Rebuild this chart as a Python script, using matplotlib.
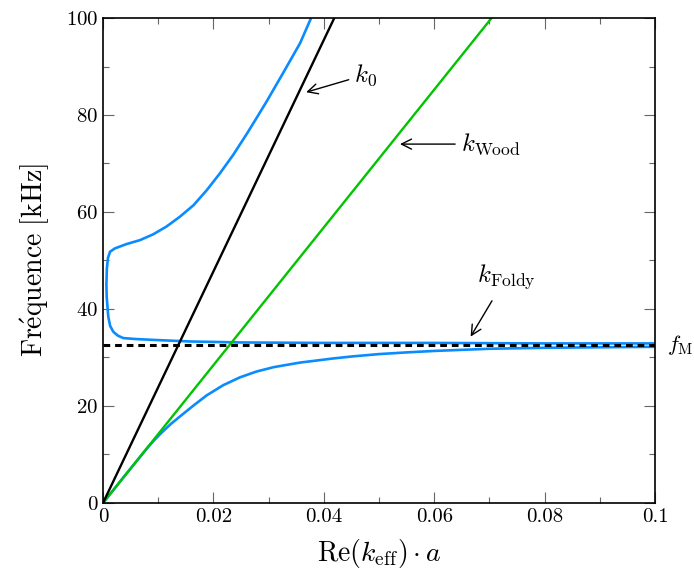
import matplotlib
matplotlib.use("Agg")
import matplotlib.pyplot as plt
from matplotlib.ticker import MultipleLocator, FuncFormatter

plt.rcParams['font.family'] = 'serif'
plt.rcParams['font.serif'] = ['cmr10']
plt.rcParams['mathtext.fontset'] = 'cm'
plt.rcParams['axes.formatter.use_mathtext'] = True

# droites k0 et kWood
x_k0 = [0.0, 0.0419]
y_k0 = [0.0, 100.0]
x_wood = [0.0, 0.0704]
y_wood = [0.0, 100.0]

# branche basse (Foldy)
x_bas = [0.0, 0.004, 0.0065, 0.008, 0.0094, 0.0108, 0.0123, 0.0139, 0.0164,
         0.0188, 0.0218, 0.0248, 0.0278, 0.0309, 0.0339, 0.0357, 0.0417,
         0.045, 0.05, 0.055, 0.06, 0.07, 0.08, 0.09, 0.1]
y_bas = [0.0, 5.7, 9.2, 11.3, 13.1, 14.7, 16.3, 17.8, 20.1,
         22.2, 24.3, 25.9, 27.1, 28.0, 28.6, 28.95, 29.8,
         30.2, 30.7, 31.05, 31.35, 31.8, 32.0, 32.1, 32.2]

# branche haute (Foldy), de droite a gauche puis vers le haut
x_haut = [0.1, 0.08, 0.06, 0.04, 0.025, 0.0158, 0.0097, 0.0060, 0.00368,
          0.0027, 0.00187, 0.0013, 0.00096, 0.00067, 0.00062, 0.0007,
          0.0009, 0.00127, 0.00217, 0.0043, 0.0067, 0.0091, 0.0115, 0.0139,
          0.0164, 0.0188, 0.0212, 0.0236, 0.0261, 0.0281, 0.0297, 0.0327,
          0.0357, 0.0377]
y_haut = [32.9, 32.9, 33.0, 33.0, 33.1, 33.3, 33.6, 33.8, 34.0,
          34.5, 35.3, 36.5, 38.4, 42.5, 45.0, 48.3,
          50.5, 51.8, 52.5, 53.4, 54.2, 55.4, 57.0, 59.0,
          61.4, 64.5, 68.0, 71.8, 76.2, 79.9, 82.9, 88.8,
          94.8, 100.0]

f_M = 32.5

bleu = '#0a8cff'
vert = '#00c400'

fig = plt.figure(figsize=(6.94, 5.79), dpi=100)
ax = fig.add_axes([0.1484, 0.1313, 0.7954, 0.8376])

ax.plot(x_bas, y_bas, color=bleu, lw=1.9)
ax.plot(x_haut, y_haut, color=bleu, lw=1.9)
ax.plot(x_wood, y_wood, color=vert, lw=1.7)
ax.plot(x_k0, y_k0, color='k', lw=1.7)
ax.plot([0, 0.1], [f_M, f_M], color='k', lw=2.2, ls=(0, (2.2, 1.6)))

ax.set_xlim(0, 0.1)
ax.set_ylim(0, 100)
ax.xaxis.set_major_locator(MultipleLocator(0.02))
ax.xaxis.set_minor_locator(MultipleLocator(0.01))
ax.yaxis.set_major_locator(MultipleLocator(20))
ax.yaxis.set_minor_locator(MultipleLocator(10))
ax.xaxis.set_major_formatter(FuncFormatter(lambda v, p: '%g' % round(v, 4)))
ax.tick_params(which='both', direction='in', top=True, right=True, labelsize=15)
ax.tick_params(which='major', length=8, width=0.8, colors='#666666', labelcolor='k')
ax.tick_params(which='minor', length=4, width=0.8, colors='#666666')
for s in ax.spines.values():
    s.set_linewidth(1.2)

ax.set_xlabel(r'$\mathrm{Re}(k_{\mathrm{eff}})\cdot a$', fontsize=20, labelpad=8)
ax.set_ylabel(r'$\mathrm{Fr\acute{e}quence\ [kHz]}$', fontsize=20, labelpad=10)

ax.annotate(r'$k_0$', xy=(0.0368, 84.7), xytext=(0.0455, 88.3), fontsize=18,
            va='center', arrowprops=dict(arrowstyle='->', color='k', lw=1.0, shrinkA=2, shrinkB=0))
ax.annotate(r'$k_{\mathrm{Wood}}$', xy=(0.0538, 74.0), xytext=(0.0648, 74.0), fontsize=18,
            va='center', arrowprops=dict(arrowstyle='->', color='k', lw=1.0, shrinkA=2, shrinkB=0))
ax.annotate(r'$k_{\mathrm{Foldy}}$', xy=(0.0666, 34.3), xytext=(0.0731, 46.7), fontsize=18,
            ha='center', va='center', arrowprops=dict(arrowstyle='->', color='k', lw=1.0, shrinkA=6, shrinkB=0))
ax.text(0.1022, f_M, r'$f_{\mathrm{M}}$', fontsize=16, va='center', clip_on=False)

fig.savefig('out.png', dpi=100)
